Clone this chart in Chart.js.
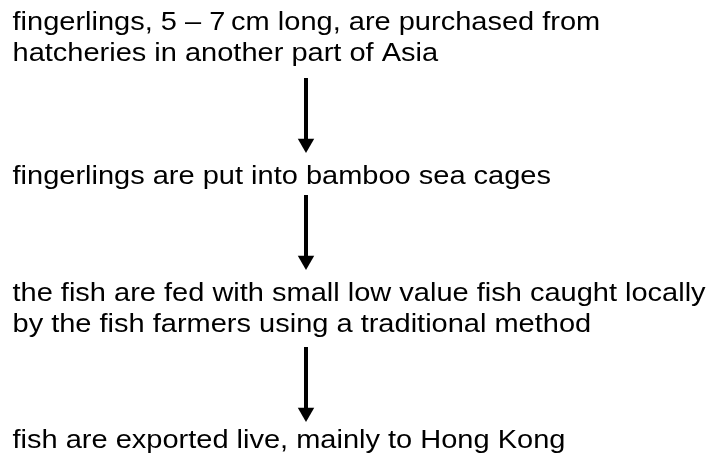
<!DOCTYPE html>
<html>
<head>
<meta charset="utf-8">
<script src="https://cdn.jsdelivr.net/npm/chart.js@4"></script>
<style>
  html, body { margin: 0; padding: 0; background: #fff; }
  #wrap { width: 713px; height: 461px; }
</style>
</head>
<body>
<div id="wrap"><canvas id="flow" width="713" height="461"></canvas></div>
<script>
// flow steps, each one or two lines of text
const stepLines = [
  ['fingerlings, 5 \u2013 7\u2009cm long, are purchased from', 'hatcheries in another part of Asia'],
  ['fingerlings are put into bamboo sea cages'],
  ['the fish are fed with small low value fish caught locally', 'by the fish farmers using a traditional method'],
  ['fish are exported live, mainly to Hong Kong']
]
// baseline of first line of each step (y units = px from top)
const stepY = [29.5, 184, 300.5, 448]
const lineGap = 31.5
const textX = 12.5

// arrows between steps: shaft start and tip
const arrowX = 306
const arrowTop = [78, 195, 347]
const arrowTip = [153, 270, 422]

const headR = 9.5
const textStretch = 1.16

const shafts = arrowTop.map((top, i) => ({
  type: 'line',
  data: [{ x: arrowX, y: top }, { x: arrowX, y: arrowTip[i] - 6 }],
  borderColor: '#000',
  borderWidth: 4,
  pointRadius: 0,
  borderCapStyle: 'butt',
}))

const heads = {
  type: 'scatter',
  data: arrowTip.map((tip) => ({ x: arrowX, y: tip - headR })),
  pointStyle: 'triangle',
  rotation: 180,
  pointRadius: headR,
  backgroundColor: '#000',
  borderWidth: 0,
}

const textPlugin = {
  id: 'stepText',
  afterDatasetsDraw(chart) {
    const { ctx, scales } = chart
    ctx.save()
    ctx.fillStyle = '#000'
    ctx.font = '25px "Liberation Sans", Arial, sans-serif'
    ctx.textBaseline = 'alphabetic'
    ctx.textAlign = 'left'
    stepLines.forEach((lines, i) => {
      lines.forEach((line, j) => {
        const x = scales.x.getPixelForValue(textX)
        const y = scales.y.getPixelForValue(stepY[i] + j * lineGap)
        ctx.save()
        ctx.translate(x, y)
        ctx.scale(textStretch, 1)
        ctx.fillText(line, 0, 0)
        ctx.restore()
      })
    })
    ctx.restore()
  },
}

const ctx = document.getElementById('flow').getContext('2d')
const flowChart = new Chart(ctx, {
  type: 'scatter',
  data: { datasets: [...shafts, heads] },
  options: {
    responsive: false,
    animation: false,
    layout: { padding: 0, autoPadding: false },
    scales: {
      x: { type: 'linear', min: 0, max: 713, display: false },
      y: { type: 'linear', min: 0, max: 461, reverse: true, display: false },
    },
    plugins: {
      legend: { display: false },
      tooltip: { enabled: false },
    },
  },
  plugins: [textPlugin],
})
</script>
</body>
</html>
